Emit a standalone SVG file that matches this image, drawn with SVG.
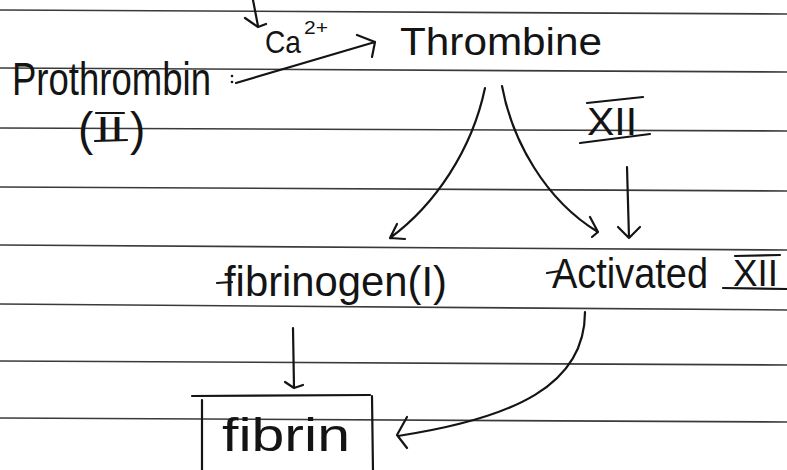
<svg xmlns="http://www.w3.org/2000/svg" width="787" height="470" viewBox="0 0 787 470">
<defs>
<style>
.rule{stroke:#3a3a3a;stroke-width:1.6;fill:none}
.ink{stroke:#141414;stroke-width:2.2;fill:none;stroke-linecap:round;stroke-linejoin:round}
.dot{fill:#141414}
.t{font-family:"Liberation Sans","DejaVu Sans",sans-serif;fill:#141414}
</style>
</defs>
<rect width="787" height="470" fill="#ffffff"/>
<g id="ruled-lines">
<line class="rule" x1="0" y1="10" x2="787" y2="14"/>
<line class="rule" x1="0" y1="68" x2="787" y2="72"/>
<line class="rule" x1="0" y1="128" x2="787" y2="131"/>
<line class="rule" x1="0" y1="187" x2="787" y2="191"/>
<line class="rule" x1="0" y1="245" x2="787" y2="250"/>
<line class="rule" x1="0" y1="304" x2="787" y2="310"/>
<line class="rule" x1="0" y1="361" x2="787" y2="365"/>
<line class="rule" x1="0" y1="418" x2="787" y2="422"/>
</g>
<g id="prothrombin">
<text class="t" x="12" y="95" font-size="46" textLength="199" lengthAdjust="spacingAndGlyphs">Prothrombin</text>
<circle class="dot" cx="232" cy="76" r="1.3"/>
<circle class="dot" cx="232" cy="82" r="1.3"/>
<text class="t" x="78" y="145" font-size="46">(</text>
<text class="t" x="96" y="140" font-size="34" textLength="28" lengthAdjust="spacingAndGlyphs">II</text>
<text class="t" x="130" y="145" font-size="46">)</text>
<line class="ink" x1="96" y1="113" x2="124" y2="113"/>
<line class="ink" x1="95" y1="141" x2="127" y2="140"/>
</g>
<g id="ca">
<text class="t" x="265" y="53" font-size="32" textLength="36" lengthAdjust="spacingAndGlyphs">Ca</text>
<text class="t" x="304" y="34" font-size="18" textLength="24" lengthAdjust="spacingAndGlyphs">2+</text>
</g>
<g id="thrombine">
<text class="t" x="400" y="55" font-size="38" textLength="202" lengthAdjust="spacingAndGlyphs">Thrombine</text>
</g>
<g id="xii">
<text class="t" x="587" y="135" font-size="38" textLength="50" lengthAdjust="spacingAndGlyphs">XII</text>
<line class="ink" x1="587" y1="103" x2="643" y2="97"/>
<line class="ink" x1="580" y1="143" x2="650" y2="134"/>
</g>
<g id="fibrinogen">
<line class="ink" x1="217" y1="283" x2="232" y2="282"/>
<text class="t" x="224" y="296" font-size="42" textLength="223" lengthAdjust="spacingAndGlyphs">fibrinogen(I)</text>
</g>
<g id="activated-xii">
<line class="ink" x1="547" y1="273" x2="560" y2="271"/>
<text class="t" x="552" y="288" font-size="42" textLength="156" lengthAdjust="spacingAndGlyphs">Activated</text>
<text class="t" x="733" y="286" font-size="36" textLength="45" lengthAdjust="spacingAndGlyphs">XII</text>
<line class="ink" x1="735" y1="256" x2="780" y2="255"/>
<line class="ink" x1="723" y1="288" x2="787" y2="289"/>
</g>
<g id="fibrin">
<path class="ink" d="M192,396 L370,395 M202,400 L202,472 M372,396 L373,472"/>
<text class="t" x="222" y="451" font-size="46" textLength="128" lengthAdjust="spacingAndGlyphs">fibrin</text>
</g>
<g id="connectors">
<path class="ink" d="M236,83 L375,42 M357,35 L375,42 L372,57"/>
<path class="ink" d="M253,0 L258,26 M245,18 L258,27 L266,24"/>
<path class="ink" d="M485,88 C472,150 435,205 390,238 M397,224 L390,238 L405,239"/>
<path class="ink" d="M502,86 C512,140 545,200 598,232 M590,217 L598,232 L592,237"/>
<path class="ink" d="M627,167 L629,238 M618,227 L629,238 L640,227"/>
<path class="ink" d="M293,328 L294,388 M285,382 L294,388 L303,385"/>
<path class="ink" d="M585,312 C585,385 515,418 398,436 M407,417 L397,435 L407,448"/>
</g>
</svg>
